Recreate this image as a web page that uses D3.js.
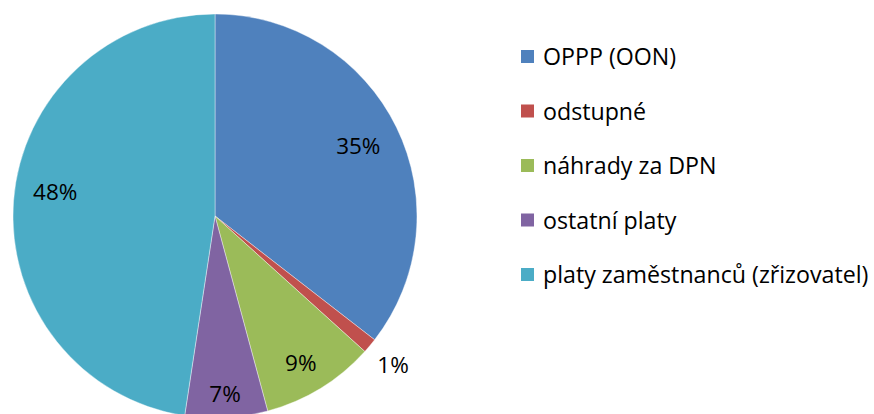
<!DOCTYPE html>
<html>
<head>
<meta charset="utf-8">
<script src="https://cdn.jsdelivr.net/npm/d3@7"></script>
<style>
  body { margin: 0; background: #fff; }
  svg text { font-family: "Open Sans", sans-serif; fill: #000; }
</style>
</head>
<body>
<svg width="874" height="414"></svg>
<script>
const categories = ["OPPP (OON)", "odstupné", "náhrady za DPN", "ostatní platy", "platy zaměstnanců (zřizovatel)"];
const values = [35.5, 1.2, 9.1, 6.6, 47.6];
const labels = ["35%", "1%", "9%", "7%", "48%"];
const colors = ["#4F81BD", "#C0504D", "#9BBB59", "#8064A2", "#4BACC6"];

const svg = d3.select("svg");

const cx = 215, cy = 216, radius = 202;
// label distance (fraction of radius) and angle nudge (radians), per slice
const labelPos = [0.79, 1.15, 0.84, 0.88, 0.80];
const labelTurn = [0, 0, 0.02, 0, 0.075];

const pie = d3.pie().sort(null).value(d => d);
const arcs = pie(values);
const arc = d3.arc().innerRadius(0).outerRadius(radius);

const g = svg.append("g").attr("transform", `translate(${cx},${cy})`);

g.selectAll("path")
  .data(arcs)
  .join("path")
  .attr("d", arc)
  .attr("fill", (d, i) => colors[i])
  .attr("stroke", "#fff")
  .attr("stroke-width", 0.4);

g.selectAll("text.lbl")
  .data(arcs)
  .join("text")
  .attr("class", "lbl")
  .attr("transform", (d, i) => {
    const r = radius * labelPos[i];
    const a = d3.arc().innerRadius(r).outerRadius(r);
    const s = { startAngle: d.startAngle + labelTurn[i], endAngle: d.endAngle + labelTurn[i] };
    return `translate(${a.centroid(s)})`;
  })
  .attr("text-anchor", "middle")
  .attr("dy", "0.36em")
  .style("font-size", "22.5px")
  .text((d, i) => labels[i]);

// Legend
const legend = svg.append("g").attr("transform", "translate(521,57)");
const rowH = 54.5;

const item = legend.selectAll("g")
  .data(categories)
  .join("g")
  .attr("transform", (d, i) => `translate(0,${i * rowH})`);

item.append("rect")
  .attr("x", 0)
  .attr("y", -7)
  .attr("width", 13)
  .attr("height", 13)
  .attr("fill", (d, i) => colors[i]);

item.append("text")
  .attr("x", 22)
  .attr("dy", "0.36em")
  .style("font-size", "23.2px")
  .text(d => d);
</script>
</body>
</html>
